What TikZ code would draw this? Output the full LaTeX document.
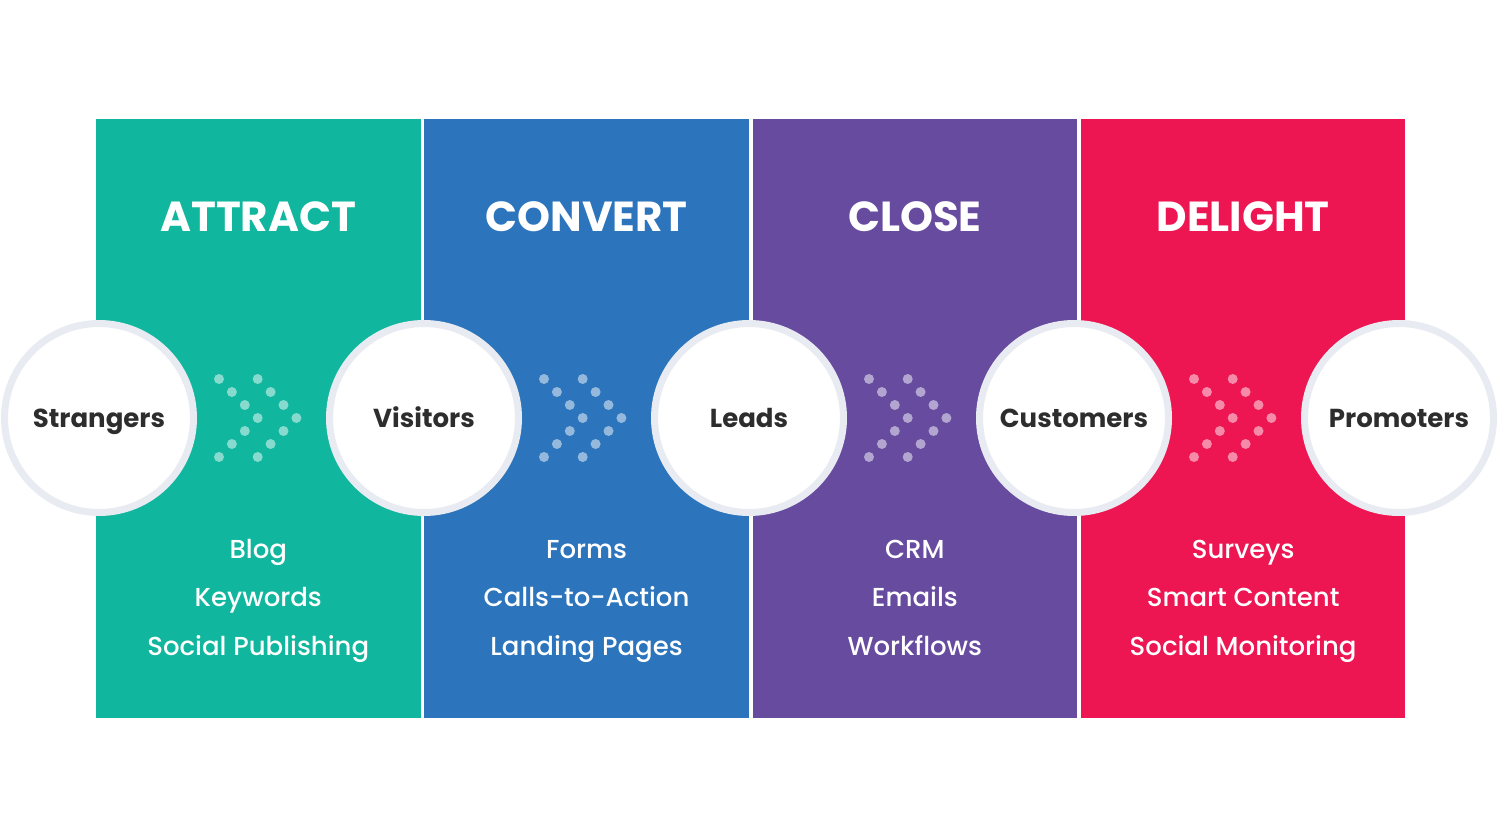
\documentclass[tikz,border=0pt]{standalone}
\usepackage{fontspec}
\setmainfont{Poppins}
\newfontfamily\poppinsmedium{Poppins Medium}
\usetikzlibrary{positioning, calc}
\definecolor{attractgreen}{RGB}{16,182,157}
\definecolor{convertblue}{RGB}{44,116,188}
\definecolor{closepurple}{RGB}{102,75,159}
\definecolor{delightred}{RGB}{237,22,83}
\definecolor{ringgray}{RGB}{232,235,241}
\definecolor{labeldark}{RGB}{45,45,45}

\begin{document}
\begin{tikzpicture}[x=1pt, y=-1pt,
  panelbox/.style={inner sep=0pt, outer sep=0pt, minimum width=324.5pt, minimum height=599pt, anchor=north west},
  stagetitle/.style={text=white, font=\fontsize{42}{46}\selectfont\bfseries},
  tactic/.style={text=white, anchor=base, font=\poppinsmedium\fontsize{26}{30}\selectfont},
  stage/.style={circle, fill=white, draw=ringgray, line width=7pt, minimum size=189pt, inner sep=0pt,
    text=labeldark, text height=19pt, text depth=0pt, font=\fontsize{26}{30}\selectfont\bfseries},
  dot/.style={white, opacity=0.5}]
  \useasboundingbox (0,0) rectangle (1500,840);

  % the four stage panels
  \foreach \i/\col/\name in {0/attractgreen/ATTRACT, 1/convertblue/CONVERT, 2/closepurple/CLOSE, 3/delightred/DELIGHT} {
    \node[panelbox, fill=\col] (p\i) at ({96+328.3*\i}, 119) {};
    \node[stagetitle] (t\i) at ({258.25+328.3*\i}, 217) {\name};
  }

  % tactics under each stage
  \foreach \i/\ta/\tb/\tc in {0/Blog/Keywords/Social Publishing, 1/Forms/Calls-to-Action/Landing Pages,
      2/CRM/Emails/Workflows, 3/Surveys/Smart Content/Social Monitoring} {
    \node[tactic] (a\i) at ({258.25+328.3*\i}, 558) {\ta};
    \node[tactic] (b\i) at ({258.25+328.3*\i}, 606.5) {\tb};
    \node[tactic] (c\i) at ({258.25+328.3*\i}, 655) {\tc};
  }

  % dotted chevrons between the circles
  \foreach \i in {0,...,3} {
    \coordinate (d\i) at ({219+325*\i}, 418);
    \foreach \s in {0, 38.7} {
      \foreach \k in {0,...,3}
        \fill[dot] ($(d\i)+(\s+12.9*\k, -39+13*\k)$) circle (5pt);
      \foreach \k in {0,...,2}
        \fill[dot] ($(d\i)+(\s+12.9*\k, 39-13*\k)$) circle (5pt);
    }
  }

  % audience circles
  \node[stage] (strangers) at (99, 418) {Strangers};
  \node[stage] (visitors) at (424, 418) {Visitors};
  \node[stage] (leads) at (749, 418) {Leads};
  \node[stage] (customers) at (1074, 418) {Customers};
  \node[stage] (promoters) at (1399, 418) {Promoters};
\end{tikzpicture}
\end{document}
